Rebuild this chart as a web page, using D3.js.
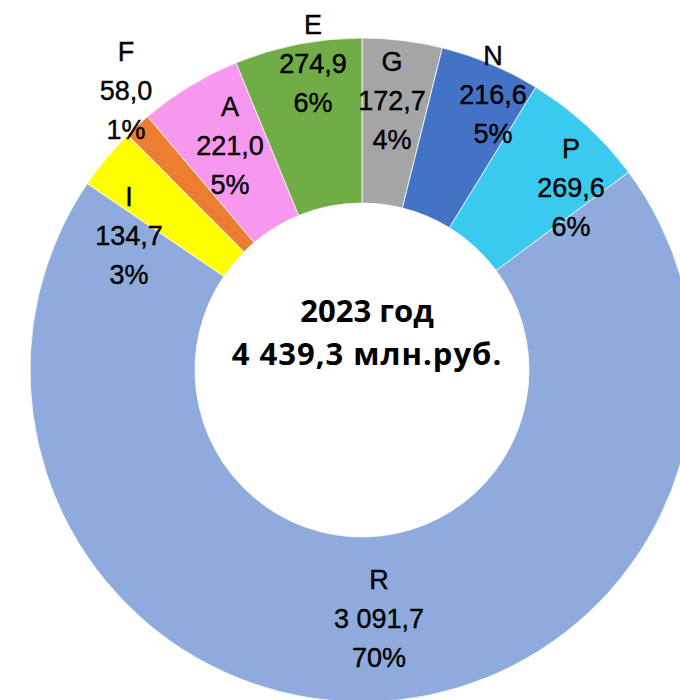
<!DOCTYPE html>
<html>
<head>
<meta charset="utf-8">
<script src="https://cdn.jsdelivr.net/npm/d3@7"></script>
<style>
  html, body { margin: 0; padding: 0; background: #ffffff; }
  svg { display: block; }
</style>
</head>
<body>
<div id="chart"></div>
<script>
// ---- data ----
const categories = ["G", "N", "P", "R", "I", "F", "A", "E"];
const values = [172.7, 216.6, 269.6, 3091.7, 134.7, 58.0, 221.0, 274.9];
const centerTitle = "2023 год";
const totalLabel = "4 439,3 млн.руб.";

// ---- styling / layout ----
const colors = ["#A5A5A5", "#4472C4", "#3AC9EF", "#8FAADC", "#FFFF00", "#ED7D31", "#F598EE", "#70AD47"];
// label nudges (px) from the ring-centre point of each slice to the value line baseline
const labelNudge = [[-0.4, -12.4], [34.4, -35.5], [40.4, 11], [11.8, 8.6], [-40.8, 34], [-67.2, -86.3], [-2.6, -1.7], [-0.7, -52.7]];

const W = 680, H = 700;
const cx = 362, cy = 370;
const rOuter = 332, rInner = 167;
const lineGap = 39;

const svg = d3.select("#chart").append("svg")
  .attr("width", W).attr("height", H)
  .attr("viewBox", `0 0 ${W} ${H}`);

svg.append("rect").attr("width", W).attr("height", H).attr("fill", "#ffffff");

const g = svg.append("g").attr("transform", `translate(${cx},${cy})`);

const data = categories.map((c, i) => ({ cat: c, value: values[i], i }));
const total = d3.sum(values);

const pie = d3.pie().sort(null).value(d => d.value).startAngle(0).endAngle(2 * Math.PI);
const arc = d3.arc().innerRadius(rInner).outerRadius(rOuter);
const arcs = pie(data);

g.selectAll("path.slice")
  .data(arcs)
  .join("path")
  .attr("class", "slice")
  .attr("d", arc)
  .attr("fill", d => colors[d.data.i])
  .attr("stroke", "#ffffff")
  .attr("stroke-width", 0.75);

const locale = d3.formatLocale({ decimal: ",", thousands: " ", grouping: [3], currency: ["", ""] });
const fmtVal = locale.format(",.1f");

g.selectAll("text.lbl")
  .data(arcs)
  .join("text")
  .attr("class", "lbl")
  .attr("text-anchor", "middle")
  .attr("font-family", "'Liberation Sans', Arial, sans-serif")
  .attr("font-size", 27)
  .attr("fill", "#000000")
  .attr("stroke", "#000000")
  .attr("stroke-width", 0.4)
  .each(function(d) {
    const c = arc.centroid(d);
    const n = labelNudge[d.data.i];
    const x = c[0] + n[0], y = c[1] + n[1];
    const t = d3.select(this);
    t.append("tspan").attr("x", x).attr("y", y - lineGap).text(d.data.cat);
    t.append("tspan").attr("x", x).attr("y", y).text(fmtVal(d.data.value));
    t.append("tspan").attr("x", x).attr("y", y + lineGap).text(Math.round(d.data.value / total * 100) + "%");
  });

const center = g.append("text")
  .attr("text-anchor", "middle")
  .attr("font-family", "'Open Sans', 'Noto Sans', sans-serif")
  .attr("font-weight", "bold")
  .attr("font-size", 31)
  .attr("fill", "#000000");
center.append("tspan").attr("x", 5).attr("y", -48).text(centerTitle);
center.append("tspan").attr("x", 5).attr("y", -5).attr("letter-spacing", 1).text(totalLabel);
</script>
</body>
</html>
